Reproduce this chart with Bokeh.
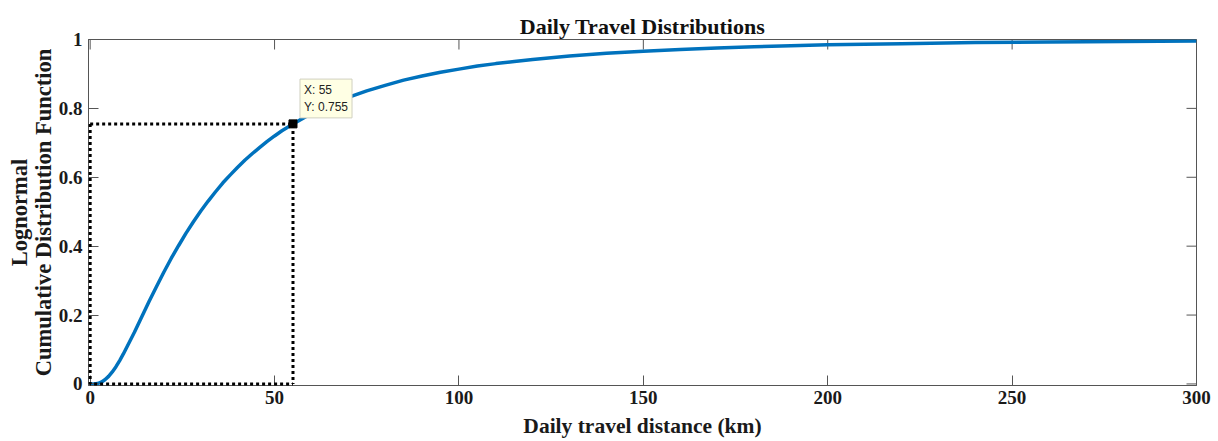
import math

from bokeh.plotting import figure
from bokeh.models import Range1d, FixedTicker, Label
from bokeh.embed import file_html
from bokeh.resources import INLINE

# Lognormal CDF of daily travel distance (km)
distance_km = [0, 1, 2, 3, 4, 5, 6, 7, 8, 9, 10, 12, 14, 16, 18, 20, 22, 24, 26, 28,
               30, 32, 34, 36, 38, 40, 42, 44, 46, 48, 50, 52, 55, 58, 60, 65, 70, 75,
               80, 85, 90, 95, 100, 105, 110, 115, 120, 125, 130, 140, 150, 160, 170,
               180, 190, 200, 220, 240, 260, 280, 300]
cdf_value = [0.0, 0.0001, 0.001, 0.005, 0.012, 0.022, 0.035, 0.050, 0.068, 0.087, 0.108,
             0.150, 0.195, 0.240, 0.283, 0.325, 0.365, 0.402, 0.438, 0.471,
             0.502, 0.531, 0.558, 0.584, 0.607, 0.629, 0.650, 0.669, 0.687, 0.704,
             0.720, 0.735, 0.755, 0.773, 0.785, 0.810, 0.832, 0.851,
             0.867, 0.882, 0.894, 0.905, 0.914, 0.923, 0.930, 0.936, 0.942, 0.947,
             0.952, 0.960, 0.966, 0.971, 0.975,
             0.979, 0.982, 0.985, 0.988, 0.991, 0.993, 0.994, 0.996]

# highlighted data point
pick_x = 55
pick_y = 0.755

x_ticks = [0, 50, 100, 150, 200, 250, 300]
y_ticks = [0, 0.2, 0.4, 0.6, 0.8, 1]
y_tick_labels = ["0", "0.2", "0.4", "0.6", "0.8", "1"]

X_MAX = 300
Y_MAX = 1

SERIF = "Liberation Serif"
AXIS_GRAY = "#555555"
TEXT = "#1a1a1a"

# the ranges start a hair below zero so the dotted guides lying on the
# axes are drawn at full thickness instead of being cut by the frame
p = figure(width=1218, height=441, output_backend="svg", toolbar_location=None,
           x_range=Range1d(-0.45, X_MAX), y_range=Range1d(-0.0045, Y_MAX),
           min_border_left=88, min_border_right=22, min_border_top=39, min_border_bottom=56,
           title="Daily Travel Distributions")

p.title.text_font = SERIF
p.title.text_font_style = "bold"
p.title.text_font_size = "22px"
p.title.align = "center"
p.title.text_color = "#111111"
p.title.standoff = 2

p.grid.visible = False
p.outline_line_color = AXIS_GRAY
p.background_fill_color = "white"
p.border_fill_color = "white"


def style_axis(ax, label_size):
    ax.axis_line_color = AXIS_GRAY
    ax.major_tick_line_color = AXIS_GRAY
    ax.major_tick_in = 10
    ax.major_tick_out = 0
    ax.minor_tick_line_color = None
    ax.major_label_text_font = SERIF
    ax.major_label_text_font_style = "bold"
    ax.major_label_text_font_size = "19px"
    ax.major_label_text_color = TEXT
    ax.axis_label_text_font = SERIF
    ax.axis_label_text_font_style = "bold"
    ax.axis_label_text_font_size = label_size
    ax.axis_label_text_color = TEXT
    ax.axis_label_text_line_height = 0.97


p.xaxis.ticker = FixedTicker(ticks=x_ticks)
p.yaxis.ticker = FixedTicker(ticks=y_ticks)
p.yaxis.major_label_overrides = {t: s for t, s in zip(y_ticks, y_tick_labels)}
style_axis(p.xaxis[0], "21.5px")
style_axis(p.yaxis[0], "22.5px")
p.xaxis.axis_label = "Daily travel distance (km)"
p.yaxis.axis_label = "Lognormal\nCumulative Distribution Function"
p.xaxis.major_label_standoff = 5
p.xaxis.axis_label_standoff = 7
p.yaxis.major_label_standoff = 6
p.yaxis.axis_label_standoff = 0

# inward ticks on the top and right edges of the box: dash markers centred on
# the edge, the outer half cut away by the frame
p.scatter(x_ticks, [Y_MAX] * len(x_ticks), marker="dash", size=20,
          angle=math.pi / 2, line_color=AXIS_GRAY, line_width=1)
p.scatter([X_MAX] * len(y_ticks), y_ticks, marker="dash", size=20,
          line_color=AXIS_GRAY, line_width=1)

# CDF curve
p.line(distance_km, cdf_value, line_color="#0072BD", line_width=3.5)

# dotted guide box from the origin to the picked point
p.line([0, pick_x, pick_x], [pick_y, pick_y, 0], line_color="black",
       line_width=3, line_dash="3 3", level="overlay")
p.line([0, 0, pick_x], [pick_y, 0, 0], line_color="black",
       line_width=3, line_dash="3 3", level="overlay")

p.scatter([pick_x], [pick_y], marker="square", size=8, fill_color="black",
          line_color="black", level="overlay")

# data tip
tip = Label(x=pick_x, y=pick_y, x_offset=7, y_offset=6,
            text="X: 55\nY: 0.755", text_font="Liberation Sans", text_font_size="12px",
            text_color="#222222", text_align="left", text_baseline="bottom",
            background_fill_color="#ffffe4", border_line_color="#d0d0c0",
            padding=4)
p.add_layout(tip)

open("out.html", "w").write(file_html(p, INLINE))
